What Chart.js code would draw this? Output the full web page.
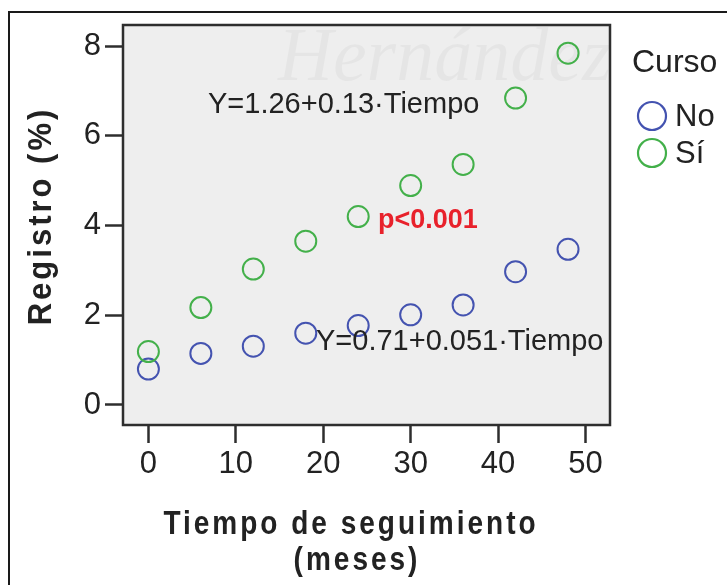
<!DOCTYPE html>
<html lang="es">
<head>
    <meta charset="UTF-8">
    <title>Registro por tiempo de seguimiento</title>
    <script src="https://cdn.jsdelivr.net/npm/chart.js"></script>
    <style>
        html, body {
            margin: 0;
            padding: 0;
            background-color: #ffffff;
        }
        .chart-box {
            position: relative;
            width: 727px;
            height: 585px;
        }
    </style>
</head>
<body>
    <div class="chart-box">
        <canvas id="registroChart" width="727" height="585"></canvas>
    </div>

    <script>
        // Follow-up months
        const meses = [0, 6, 12, 18, 24, 30, 36, 42, 48];

        // Registro (%) per group
        const registroNo = [0.80, 1.15, 1.31, 1.60, 1.77, 2.01, 2.23, 2.97, 3.47];
        const registroSi = [1.19, 2.17, 3.03, 3.65, 4.20, 4.89, 5.36, 6.84, 7.84];

        // Axis ticks
        const xTicks = [0, 10, 20, 30, 40, 50];
        const yTicks = [0, 2, 4, 6, 8];

        const colorNo = '#4453b0';
        const colorSi = '#43b04a';
        const plotBg = '#eeeeee';
        const inkColor = '#222222';
        const fontFamily = '"Liberation Sans", Arial, Helvetica, sans-serif';

        // Text placed on the plot, in data coordinates (left edge, vertical middle)
        const annotations = [
            { text: 'Y=1.26+0.13\u00b7Tiempo', x: 6.82, y: 6.69, color: inkColor, weight: 'normal', size: 29 },
            { text: 'p<0.001', x: 26.26, y: 4.12, color: '#e8212b', weight: 'bold', size: 27 },
            { text: 'Y=0.71+0.051\u00b7Tiempo', x: 19.17, y: 1.40, color: inkColor, weight: 'normal', size: 29 }
        ];

        function toPoints(xs, ys) {
            return xs.map((x, i) => ({ x: x, y: ys[i] }));
        }

        // draws text a bit taller than wide, like the condensed bold titles
        function tallText(ctx, text, x, y, stretch) {
            ctx.save();
            ctx.translate(x, y);
            ctx.scale(1, stretch);
            ctx.fillText(text, 0, 0);
            ctx.restore();
        }

        // Frame, plot background, watermark, plot border, text and legend
        const decorPlugin = {
            id: 'decor',
            beforeDraw(chart) {
                const ctx = chart.ctx;
                const a = chart.chartArea;
                ctx.save();
                ctx.fillStyle = '#ffffff';
                ctx.fillRect(0, 0, chart.width, chart.height);

                // outer frame (top and left edges)
                ctx.strokeStyle = '#1a1a1a';
                ctx.lineWidth = 2;
                ctx.beginPath();
                ctx.moveTo(727, 12);
                ctx.lineTo(9, 12);
                ctx.lineTo(9, 585);
                ctx.stroke();

                ctx.fillStyle = plotBg;
                ctx.fillRect(a.left, a.top, a.right - a.left, a.bottom - a.top);

                // faint watermark
                ctx.fillStyle = 'rgba(0, 0, 0, 0.035)';
                ctx.font = 'italic 76px "Liberation Serif", "Times New Roman", serif';
                ctx.textBaseline = 'alphabetic';
                ctx.textAlign = 'left';
                ctx.fillText('Hern\u00e1ndez', 278, 80);
                ctx.restore();
            },
            afterDatasetsDraw(chart) {
                const ctx = chart.ctx;
                const a = chart.chartArea;
                const xs = chart.scales.x;
                const ys = chart.scales.y;
                ctx.save();

                // plot border
                ctx.strokeStyle = '#2e2e2e';
                ctx.lineWidth = 2.5;
                ctx.strokeRect(a.left, a.top, a.right - a.left, a.bottom - a.top);

                // regression equations and p value
                ctx.textBaseline = 'middle';
                ctx.textAlign = 'left';
                annotations.forEach(n => {
                    ctx.fillStyle = n.color;
                    ctx.font = n.weight + ' ' + n.size + 'px ' + fontFamily;
                    ctx.fillText(n.text, xs.getPixelForValue(n.x), ys.getPixelForValue(n.y));
                });

                // axis titles
                ctx.fillStyle = inkColor;
                ctx.font = 'bold 28px ' + fontFamily;
                ctx.letterSpacing = '3px';
                ctx.textAlign = 'center';
                tallText(ctx, 'Tiempo de seguimiento', 351, 525, 1.18);
                tallText(ctx, '(meses)', 357, 561, 1.18);

                ctx.save();
                ctx.translate(42, 216);
                ctx.rotate(-Math.PI / 2);
                ctx.font = 'bold 31px ' + fontFamily;
                ctx.letterSpacing = '3px';
                tallText(ctx, 'Registro (%)', 0, 0, 1.1);
                ctx.restore();
                ctx.letterSpacing = '0px';

                // legend
                ctx.textAlign = 'left';
                ctx.font = '32px ' + fontFamily;
                ctx.fillText('Curso', 632, 63);
                const items = [
                    { label: 'No', color: chart.data.datasets[1].borderColor, y: 116 },
                    { label: 'S\u00ed', color: chart.data.datasets[0].borderColor, y: 153 }
                ];
                ctx.font = '31px ' + fontFamily;
                items.forEach(it => {
                    ctx.strokeStyle = it.color;
                    ctx.lineWidth = 2.2;
                    ctx.beginPath();
                    ctx.arc(652, it.y, 14, 0, Math.PI * 2);
                    ctx.stroke();
                    ctx.fillStyle = inkColor;
                    ctx.fillText(it.label, 675, it.y + 1);
                });
                ctx.restore();
            }
        };

        const axisGrid = {
            display: true,
            drawOnChartArea: false,
            drawTicks: true,
            tickLength: 18,
            tickColor: '#2e2e2e',
            tickWidth: 2.5
        };

        new Chart(document.getElementById('registroChart'), {
            type: 'scatter',
            data: {
                datasets: [{
                    label: 'S\u00ed',
                    data: toPoints(meses, registroSi),
                    borderColor: colorSi,
                    backgroundColor: 'rgba(0,0,0,0)',
                    borderWidth: 2,
                    pointRadius: 10.5,
                    pointHoverRadius: 10.5
                }, {
                    label: 'No',
                    data: toPoints(meses, registroNo),
                    borderColor: colorNo,
                    backgroundColor: 'rgba(0,0,0,0)',
                    borderWidth: 2,
                    pointRadius: 10.5,
                    pointHoverRadius: 10.5
                }]
            },
            options: {
                responsive: false,
                animation: false,
                events: [],
                layout: {
                    padding: { left: 0, right: 117, top: 25, bottom: 0 }
                },
                plugins: {
                    legend: { display: false },
                    tooltip: { enabled: false }
                },
                scales: {
                    x: {
                        type: 'linear',
                        min: -2.905,
                        max: 52.80,
                        grid: axisGrid,
                        border: { display: false },
                        afterBuildTicks: scale => {
                            scale.ticks = xTicks.map(v => ({ value: v }));
                        },
                        afterFit: scale => { scale.height = 160; },
                        ticks: {
                            padding: 3,
                            color: inkColor,
                            maxRotation: 0,
                            font: { family: fontFamily, size: 31 }
                        }
                    },
                    y: {
                        type: 'linear',
                        min: -0.446,
                        max: 8.468,
                        grid: axisGrid,
                        border: { display: false },
                        afterBuildTicks: scale => {
                            scale.ticks = yTicks.map(v => ({ value: v }));
                        },
                        afterFit: scale => { scale.width = 123; },
                        ticks: {
                            padding: 4,
                            color: inkColor,
                            font: { family: fontFamily, size: 31 }
                        }
                    }
                }
            },
            plugins: [decorPlugin]
        });
    </script>
</body>
</html>
